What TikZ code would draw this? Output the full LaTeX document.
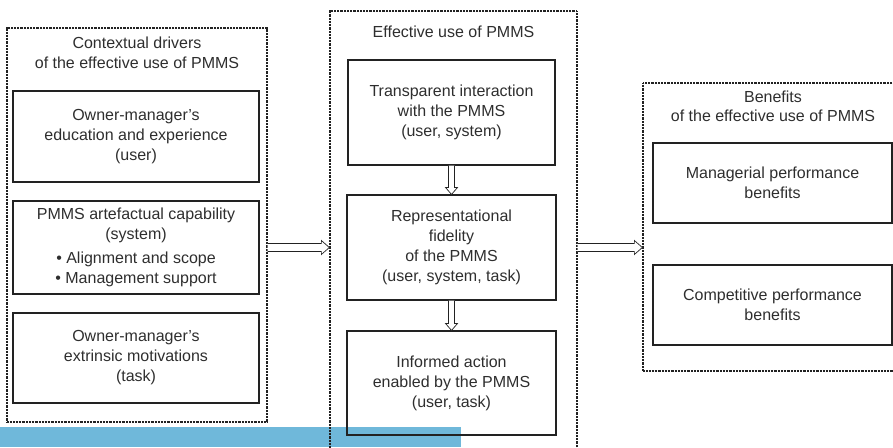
\documentclass[tikz,border=0pt]{standalone}
\usepackage{fontspec}
\setmainfont{Liberation Sans}
\usetikzlibrary{calc}
\definecolor{barblue}{HTML}{6FB8DA}
\definecolor{ink}{HTML}{222222}
\begin{document}
\begin{tikzpicture}[x=1pt,y=-1pt,
  outerbox/.style={draw=ink, line width=1.3pt, dash pattern=on 1pt off 0.45pt, inner sep=0pt},
  innerbox/.style={draw=ink, line width=1.1pt, inner sep=0pt, align=center, text=black!82,
    font=\fontsize{16}{20}\selectfont},
  boxlabel/.style={align=center, text=black!82, inner sep=0pt, font=\fontsize{16}{20}\selectfont},
  shaftw/.store in=\shaftw, headw/.store in=\headw, headl/.store in=\headl,
  shaftw=4pt, headw=7pt, headl=8pt,
  hollow/.style={draw=ink, line width=0.7pt, fill=white, line join=miter},
  hollowto/.style={to path={let \p1=(\tikztostart), \p2=(\tikztotarget),
     \n1={atan2(\y2-\y1,\x2-\x1)} in
     ($(\p1)+(\n1+90:\shaftw)$) -- ($(\p2)+(\n1+180:\headl)+(\n1+90:\shaftw)$)
     -- ($(\p2)+(\n1+180:\headl)+(\n1+90:\headw)$) -- (\p2)
     -- ($(\p2)+(\n1+180:\headl)+(\n1-90:\headw)$)
     -- ($(\p2)+(\n1+180:\headl)+(\n1-90:\shaftw)$) -- ($(\p1)+(\n1-90:\shaftw)$)}}
]
\useasboundingbox (0,0) rectangle (893,447);
\clip (0,0) rectangle (893,447);
\fill[barblue] (0,427) rectangle (461,447);

% left column
\node[outerbox, minimum width=260pt, minimum height=394pt] (lout) at (137,225) {};
\node[boxlabel] (ltitle) at (137,53) {Contextual drivers\\of the effective use of PMMS};
\node[innerbox, minimum width=246pt, minimum height=91pt] (l1) at (136,136.5)
  {Owner-manager's\\education and experience\\(user)};
\node[innerbox, minimum width=246pt, minimum height=93pt] (l2) at (136,247.5)
  {PMMS artefactual capability\\(system)\\[4pt]\textbullet\ Alignment and scope\\\textbullet\ Management support};
\node[innerbox, minimum width=246pt, minimum height=90pt] (l3) at (136,358)
  {Owner-manager's\\extrinsic motivations\\(task)};

% middle column
\node[outerbox, minimum width=247pt, minimum height=459pt] (mout) at (453.5,240.5) {};
\node[boxlabel] (mtitle) at (453.5,32) {Effective use of PMMS};
\node[innerbox, minimum width=207pt, minimum height=105pt] (m1) at (451.5,112.5)
  {Transparent interaction\\with the PMMS\\(user, system)};
\node[innerbox, minimum width=209pt, minimum height=105pt] (m2) at (451.5,247.5)
  {Representational\\fidelity\\of the PMMS\\(user, system, task)};
\node[innerbox, minimum width=209pt, minimum height=104pt] (m3) at (451.5,383)
  {Informed action\\enabled by the PMMS\\(user, task)};

% right column
\node[outerbox, minimum width=267pt, minimum height=288pt] (rout) at (776.5,227) {};
\node[boxlabel, font=\fontsize{16}{19}\selectfont] (rtitle) at (773,106) {Benefits\\of the effective use of PMMS};
\node[innerbox, minimum width=239pt, minimum height=80pt] (r1) at (772.5,183)
  {Managerial performance\\benefits};
\node[innerbox, minimum width=239pt, minimum height=80pt] (r2) at (772.5,305)
  {Competitive performance\\benefits};

% arrows
\coordinate (ay) at (0,247.5);
\draw[hollow] (lout.east |- ay) to[hollowto] (mout.west |- ay);
\draw[hollow] (mout.east |- ay) to[hollowto] (rout.west |- ay);
\draw[hollow, shaftw=3pt, headw=6pt, headl=7pt] (m1.south) to[hollowto] (m2.north);
\draw[hollow, shaftw=3pt, headw=6pt, headl=7pt] (m2.south) to[hollowto] (m3.north);
\end{tikzpicture}
\end{document}
